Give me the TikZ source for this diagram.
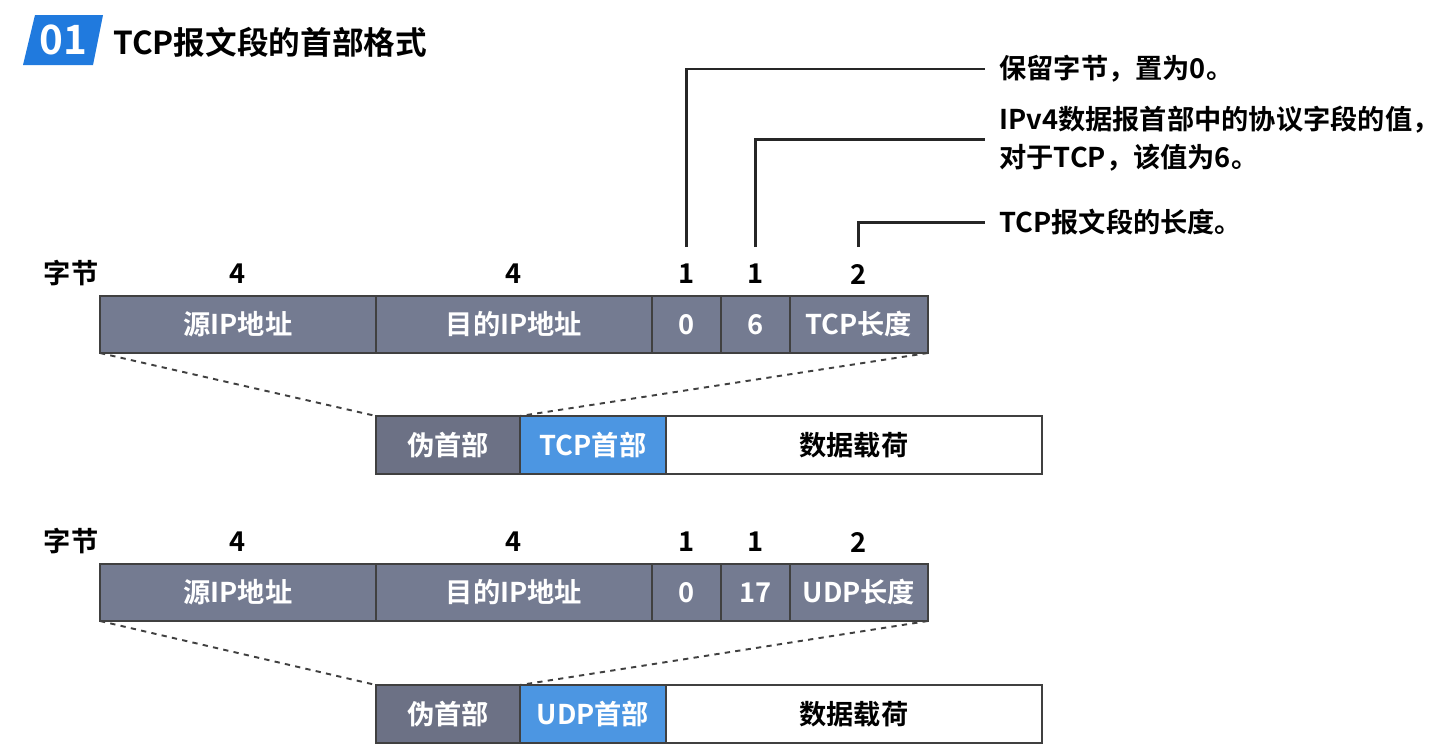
\documentclass[tikz,border=0pt]{standalone}
\usepackage{fontspec}
\setmainfont{Noto Sans CJK SC}[BoldFont={Noto Sans CJK SC Bold}]
\usetikzlibrary{positioning}

\definecolor{fieldgray}{RGB}{116,123,145}
\definecolor{pseudogray}{RGB}{108,113,133}
\definecolor{hdrblue}{RGB}{76,150,226}
\definecolor{tagblue}{RGB}{32,122,222}

\begin{document}
\begin{tikzpicture}[x=0.02cm, y=-0.02cm, font=\bfseries,
        field/.style={rectangle, draw=black!75, fill=fieldgray, text=white, minimum height=1.14cm, inner sep=0pt, outer sep=0pt, line width=0.8pt, font=\fontsize{15.5}{18}\selectfont\bfseries},
        pseudo/.style={field, fill=pseudogray, minimum width=2.88cm, minimum height=1.16cm},
        hdr/.style={field, fill=hdrblue, minimum width=2.92cm, minimum height=1.16cm},
        payload/.style={field, fill=white, text=black, minimum width=7.52cm, minimum height=1.16cm},
        num/.style={inner sep=0pt, font=\fontsize{15.5}{18}\selectfont\bfseries},
        note/.style={inner xsep=0.28cm, inner ysep=0pt, align=left, font=\fontsize{15.5}{21.5}\selectfont\bfseries},
        guide/.style={dashed, line width=1.1pt, black!75},
        callout/.style={line width=1.7pt, black!85}]

    \useasboundingbox (0,0) rectangle (1453,748);

    % title
    \fill[tagblue] (35,15) -- (103,15) -- (93,65) -- (23,65) -- cycle;
    \node[text=white, font=\fontsize{23}{24}\selectfont\bfseries] (tagnum) at (63,40) {01};
    \node[anchor=west, inner sep=0pt, font=\fontsize{18}{20}\selectfont\bfseries] (title) at (113,42) {TCP报文段的首部格式};

    % TCP pseudo header
    \node[num] (unit1) at (71,273) {字节};
    \node[field, minimum width=5.52cm, anchor=north west] (src1) at (100,296) {源IP地址};
    \node[field, minimum width=5.52cm, right=0pt of src1] (dst1) {目的IP地址};
    \node[field, minimum width=1.38cm, right=0pt of dst1] (zero1) {0};
    \node[field, minimum width=1.38cm, right=0pt of zero1] (proto1) {6};
    \node[field, minimum width=2.76cm, right=0pt of proto1] (len1) {TCP长度};

    \node[num] (n11) at ([yshift=0.44cm]src1.north) {4};
    \node[num] (n12) at ([yshift=0.44cm]dst1.north) {4};
    \node[num] (n13) at ([yshift=0.44cm]zero1.north) {1};
    \node[num] (n14) at ([yshift=0.44cm]proto1.north) {1};
    \node[num] (n15) at ([yshift=0.44cm]len1.north) {2};

    \node[pseudo, anchor=north west] (ph1) at (376,416) {伪首部};
    \node[hdr, right=0pt of ph1] (tcph) {TCP首部};
    \node[payload, right=0pt of tcph] (data1) {数据载荷};

    \draw[guide] (src1.south west) -- (ph1.north west);
    \draw[guide] (len1.south east) -- (tcph.north west);

    % notes
    \coordinate (lvl) at (0,247);
    \node[note, anchor=west] (note1) at (985,69) {保留字节，置为0。};
    \node[note, anchor=west] (note2) at (985,139) {IPv4数据报首部中的协议字段的值，\\对于TCP，该值为6。};
    \node[note, anchor=west] (note3) at (985,222) {TCP报文段的长度。};

    \draw[callout] (n13 |- lvl) |- (note1.west);
    \draw[callout] (n14 |- lvl) |- (note2.west);
    \draw[callout] (n15 |- lvl) |- (note3.west);

    % UDP pseudo header
    \node[num] (unit2) at (71,541) {字节};
    \node[field, minimum width=5.52cm, anchor=north west] (src2) at (100,564) {源IP地址};
    \node[field, minimum width=5.52cm, right=0pt of src2] (dst2) {目的IP地址};
    \node[field, minimum width=1.38cm, right=0pt of dst2] (zero2) {0};
    \node[field, minimum width=1.38cm, right=0pt of zero2] (proto2) {17};
    \node[field, minimum width=2.76cm, right=0pt of proto2] (len2) {UDP长度};

    \node[num] (n21) at ([yshift=0.44cm]src2.north) {4};
    \node[num] (n22) at ([yshift=0.44cm]dst2.north) {4};
    \node[num] (n23) at ([yshift=0.44cm]zero2.north) {1};
    \node[num] (n24) at ([yshift=0.44cm]proto2.north) {1};
    \node[num] (n25) at ([yshift=0.44cm]len2.north) {2};

    \node[pseudo, anchor=north west] (ph2) at (376,685) {伪首部};
    \node[hdr, right=0pt of ph2] (udph) {UDP首部};
    \node[payload, right=0pt of udph] (data2) {数据载荷};

    \draw[guide] (src2.south west) -- (ph2.north west);
    \draw[guide] (len2.south east) -- (udph.north west);
\end{tikzpicture}
\end{document}
